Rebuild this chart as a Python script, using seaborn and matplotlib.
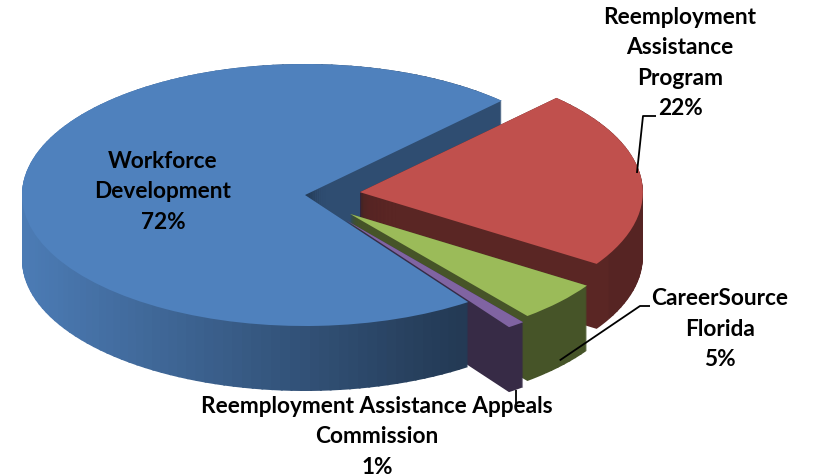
import numpy as np
import matplotlib
matplotlib.use("Agg")
import matplotlib.pyplot as plt
from matplotlib.patches import Wedge
from matplotlib.collections import PatchCollection
import seaborn as sns

# Budget share by program area (percent of total)
programs = [
    "Workforce\nDevelopment",
    "Reemployment\nAssistance\nProgram",
    "CareerSource\nFlorida",
    "Reemployment Assistance Appeals\nCommission",
]
shares = [72, 22, 5, 1]

sns.set_theme(style="white")
plt.rcParams["font.family"] = ["Lato", "DejaVu Sans"]

# --- styling -------------------------------------------------------------
top_colors = sns.color_palette(["#4f81bd", "#c0504d", "#9bbb59", "#8064a2"])
face_shade = [0.60, 0.47, 0.45, 0.43]      # darkening of the cut faces
explode = [0.0, 0.195, 0.215, 0.24]
start_angle = 305.2
depth = 0.496          # pie thickness, y data units
n_layers = 66

W, H, DPI = 813, 477, 100
fig = plt.figure(figsize=(W / DPI, H / DPI), dpi=DPI)
ax = fig.add_axes([0, 0, 1, 1])


def rim_shade(theta_deg):
    """Side-wall lighting: bright on the left, dark on the right."""
    c = np.cos(np.deg2rad(theta_deg))
    return float(np.clip(0.63 - 0.33 * c, 0.45, 0.95))


# slice geometry, using the same conventions as Axes.pie (clockwise)
total = sum(shares)
geom = []
t1 = start_angle
for s, e in zip(shares, explode):
    t2 = t1 - 360.0 * s / total
    mid = np.deg2rad(0.5 * (t1 + t2))
    geom.append((e * np.cos(mid), e * np.sin(mid), min(t1, t2), max(t1, t2), mid))
    t1 = t2

# --- extruded side walls: stacked layers, bottom to top -------------------
patches, fcolors = [], []
face_width = 5.0
for off in np.linspace(depth, 0.0, n_layers):
    for (cx, cy, a, b, _), col, fs in zip(geom, top_colors, face_shade):
        rgb = np.array(col)
        c = (cx, cy - off)
        fw = min(face_width, b - a)
        patches.append(Wedge(c, 1.0, a, a + fw))
        fcolors.append(rgb * fs)
        rest = b - a - fw
        if rest <= 1e-6:
            continue
        n = max(1, int(np.ceil(rest / 2.0)))
        bounds = np.linspace(a + fw, b, n + 1)
        for lo, hi in zip(bounds[:-1], bounds[1:]):
            patches.append(Wedge(c, 1.0, max(a + fw, lo - 0.4), hi))
            fcolors.append(rgb * rim_shade(0.5 * (lo + hi)))

walls = PatchCollection(patches, facecolors=fcolors, edgecolors="none",
                        linewidths=0, zorder=1)
ax.add_collection(walls)

# --- top faces -------------------------------------------------------------
wedges, _ = ax.pie(shares, explode=explode, startangle=start_angle,
                   counterclock=False, colors=top_colors, radius=1.0,
                   wedgeprops=dict(linewidth=0, edgecolor="none"))
for w in wedges:
    w.set_zorder(3)

ax.set_aspect("auto")
cx0, cy0, rx, ry = 305, 196, 283, 131      # pixel frame of the pie
ax.set_xlim(-cx0 / rx, (W - cx0) / rx)
ax.set_ylim(-(H - cy0) / ry, cy0 / ry)
ax.set_axis_off()


def pix(px, py):
    """pixel position (from top-left) -> data coordinates"""
    return ax.transData.inverted().transform((px, H - py))


# --- labels ------------------------------------------------------------------
label_pos = [(163, 192), (680, 63), (720, 329), (377, 437)]
for name, share, (lx, ly) in zip(programs, shares, label_pos):
    ax.text(lx / W, 1 - ly / H, f"{name}\n{share}%", transform=ax.transAxes,
            ha="center", va="center", multialignment="center",
            fontsize=16.3, fontweight="bold", color="black",
            linespacing=1.56, zorder=6)

# leader lines from labels to their slices
gr, gg, gp = geom[1], geom[2], geom[3]
ang = np.deg2rad(8.5)
red_anchor = (gr[0] + 0.99 * np.cos(ang), gr[1] + 0.99 * np.sin(ang))
green_anchor = (gg[0] + np.cos(gg[4]), gg[1] + np.sin(gg[4]) - 0.9 * depth)
purple_anchor = (gp[0] + np.cos(gp[4]), gp[1] + np.sin(gp[4]) - depth)

leaders = [
    [pix(656, 117), pix(643, 117), red_anchor],
    [pix(650, 307), pix(640, 307), green_anchor],
    [purple_anchor, (purple_anchor[0], pix(0, 405)[1])],
]
for pts in leaders:
    pts = np.array(pts)
    ax.plot(pts[:, 0], pts[:, 1], color="black", lw=1.3, zorder=5,
            solid_capstyle="butt")

fig.savefig("out.png", dpi=DPI, facecolor="white")
